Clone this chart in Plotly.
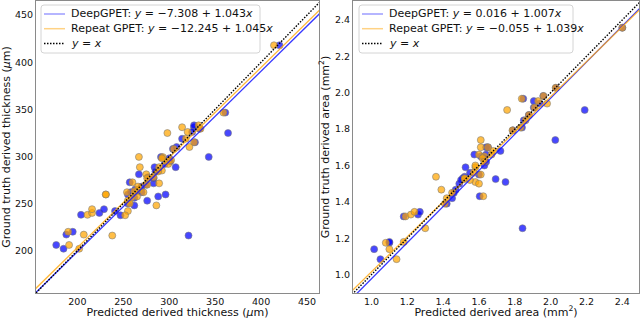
import plotly.graph_objects as go
from plotly.subplots import make_subplots

# ---------------- data: left panel (thickness, um) ----------------
thk_gt = [206, 202, 217, 220, 238, 240, 244, 259.6, 216, 242, 237.5, 262, 248, 253,
          272.5, 299.5, 288.6, 281, 257.5, 259.6, 271.4, 276.8, 288.6, 299.3, 294.6,
          418, 346.5, 324.8, 331, 333, 326, 329.4, 315, 318.8, 310, 308, 298,
          265, 268, 263, 285, 292, 296, 270, 278, 262, 256, 250, 284]
thk_deep = [177, 185, 188, 195, 204, 224, 229, 255, 321, 241, 247, 258, 262, 276,
            257, 343, 307, 267, 288, 296, 283, 283, 284, 291, 301,
            420, 361, 364, 327, 327, 325, 333, 328, 314, 308, 304, 300,
            263, 270, 265, 288, 295, 300, 275, 277, 270, 262, 255, 285]
thk_rep = [191, 202, 207, 190, 211, 216, 216, 231, 238, 255, 252, 254, 286, 255,
           260, 267, 268, 275, 265, 231, 289, 276, 289, 293, 297,
           414, 359, 298, 314, 332, 320, 334, 327, 318, 322, 305, 292,
           267, 266, 262, 292, 299, 302, 276, 283, 272, 259, 257, 288]

# ---------------- data: right panel (area, mm^2) ----------------
area_gt = [1.14, 1.085, 1.175, 1.18, 1.32, 1.33, 1.345, 1.255, 1.538, 1.467, 1.39, 1.42,
           1.431, 1.525, 1.509, 1.50, 1.53, 1.52, 1.59, 1.66, 1.65, 1.64, 1.62, 1.66,
           1.70, 1.68, 1.74, 1.70, 1.905, 1.967, 1.982, 2.027, 1.954, 1.918, 1.877,
           1.808, 1.793, 1.848, 2.357, 1.94, 1.56, 1.45, 1.55, 1.60]
area_deep = [1.015, 1.05, 1.10, 1.10, 1.18, 1.26, 1.27, 1.843, 1.52, 1.47, 1.42, 1.45,
             1.604, 1.693, 1.748, 1.49, 1.51, 1.50, 1.525, 1.574, 1.61, 1.63, 1.64, 1.64,
             1.64, 1.72, 2.026, 1.65, 2.19, 1.847, 1.959, 2.03, 1.906, 1.906, 1.878,
             1.84, 1.79, 1.85, 2.40, 1.94, 1.55, 1.46, 1.60, 1.63]
area_rep = [1.10, 1.14, 1.08, 1.18, 1.19, 1.22, 1.24, 1.30, 1.36, 1.39, 1.41, 1.42,
            1.624, 1.52, 1.58, 1.60, 1.52, 1.55, 1.58, 1.60, 1.63, 1.62, 1.63, 1.67,
            1.61, 1.68, 1.61, 1.65, 1.757, 1.839, 1.96, 2.028, 1.93, 1.91, 1.879,
            1.832, 1.787, 1.86, 2.40, 1.98, 1.57, 1.45, 1.61, 1.58]

# fitted coefficients (pred = a + b * truth), as in the legend
thk_fit = {"DeepGPET": (-7.308, 1.043), "Repeat GPET": (-12.245, 1.045)}
area_fit = {"DeepGPET": (0.016, 1.007), "Repeat GPET": (-0.055, 1.039)}

thk_xrange = [155, 463]
thk_yrange = [155, 465]
area_xrange = [0.897, 2.493]
area_yrange = [0.899, 2.504]
thk_ticks = [200, 250, 300, 350, 400, 450]
area_ticks = [1.0, 1.2, 1.4, 1.6, 1.8, 2.0, 2.2, 2.4]

FONT = "DejaVu Sans"
BLUE_PT = "rgba(0,0,255,0.72)"
ORANGE_PT = "rgba(255,165,0,0.72)"
EDGE = "rgba(120,120,120,0.55)"
BLUE_LN = "rgba(20,20,255,0.85)"
ORANGE_LN = "rgba(255,170,20,0.85)"
BLUE_LEG = "rgba(90,90,255,0.6)"
ORANGE_LEG = "rgba(255,180,50,0.6)"
DOT = "1.5px,1.5px"

W, H = 640, 319
ML, MR, MT, MB = 36, 1, 1, 26
PW, PH = W - ML - MR, H - MT - MB

fig = make_subplots(rows=1, cols=2)


def px2paper(x, y):
    return (x - ML) / PW, 1 - (y - MT) / PH


def fmt(a, b):
    sign = "\u2212" if a < 0 else ""
    return f"<i>y</i> = {sign}{abs(a):.3f} + {b:.3f}<i>x</i>"


def add_panel(col, gt, deep, rep, fit, xr, yr):
    fig.add_trace(go.Scatter(x=deep, y=gt, mode="markers", showlegend=False,
                             marker=dict(size=7, color=BLUE_PT, line=dict(color=EDGE, width=1))),
                  row=1, col=col)
    fig.add_trace(go.Scatter(x=rep, y=gt, mode="markers", showlegend=False,
                             marker=dict(size=7, color=ORANGE_PT, line=dict(color=EDGE, width=1))),
                  row=1, col=col)
    ys = [yr[0] - (yr[1] - yr[0]), yr[1] + (yr[1] - yr[0])]
    for name, color in [("DeepGPET", BLUE_LN), ("Repeat GPET", ORANGE_LN)]:
        a, b = fit[name]
        xs = [a + b * v for v in ys]
        fig.add_trace(go.Scatter(x=xs, y=ys, mode="lines", showlegend=False,
                                 line=dict(color=color, width=1.3)),
                      row=1, col=col)
    fig.add_trace(go.Scatter(x=ys, y=ys, mode="lines", showlegend=False,
                             line=dict(color="black", width=1.4, dash=DOT)),
                  row=1, col=col)


def add_legend(box, fit):
    x0, y0, x1, y1 = box
    r = 3
    p0 = px2paper(x0, y0)
    p1 = px2paper(x1, y1)
    rx, ry = r / PW, r / PH
    path = (f"M {p0[0]+rx},{p0[1]} L {p1[0]-rx},{p0[1]} Q {p1[0]},{p0[1]} {p1[0]},{p0[1]-ry} "
            f"L {p1[0]},{p1[1]+ry} Q {p1[0]},{p1[1]} {p1[0]-rx},{p1[1]} "
            f"L {p0[0]+rx},{p1[1]} Q {p0[0]},{p1[1]} {p0[0]},{p1[1]+ry} "
            f"L {p0[0]},{p0[1]-ry} Q {p0[0]},{p0[1]} {p0[0]+rx},{p0[1]} Z")
    fig.add_shape(type="path", path=path, xref="paper", yref="paper",
                  fillcolor="rgba(255,255,255,0.85)", line=dict(color="#d4d4d4", width=1))
    entries = [(f"DeepGPET: {fmt(*fit['DeepGPET'])}", BLUE_LEG, "solid"),
               (f"Repeat GPET: {fmt(*fit['Repeat GPET'])}", ORANGE_LEG, "solid"),
               ("<i>y</i> = <i>x</i>", "black", DOT)]
    for i, (txt, color, dash) in enumerate(entries):
        yc = y0 + 9 + 14.7 * i
        a = px2paper(x0 + 3, yc)
        b = px2paper(x0 + 24, yc)
        fig.add_shape(type="line", xref="paper", yref="paper", x0=a[0], y0=a[1], x1=b[0], y1=b[1],
                      line=dict(color=color, width=1.5, dash=dash))
        t = px2paper(x0 + 30, yc)
        fig.add_annotation(x=t[0], y=t[1], xref="paper", yref="paper", text=txt,
                           showarrow=False, xanchor="left", yanchor="middle", borderpad=0,
                           xshift=-1,
                           font=dict(family=FONT, size=11, color="#111"))


add_panel(1, thk_gt, thk_deep, thk_rep, thk_fit, thk_xrange, thk_yrange)
add_panel(2, area_gt, area_deep, area_rep, area_fit, area_xrange, area_yrange)
add_legend((41, 5, 260, 53), thk_fit)
add_legend((359, 5, 573, 53), area_fit)

axis_common = dict(showgrid=False, zeroline=False, showline=True, mirror=True,
                   linecolor="#8a8a8a", linewidth=1, ticks="", ticklen=0, automargin=False,
                   tickfont=dict(family=FONT, size=9.5, color="#111"),
                   title_font=dict(family=FONT, size=11, color="#111"))

fig.update_xaxes(**axis_common)
fig.update_yaxes(**axis_common)

fig.update_xaxes(range=thk_xrange, tickvals=thk_ticks,
                 title_text="Predicted derived thickness (<i>\u03bc</i>m)", title_standoff=1,
                 row=1, col=1)
fig.update_yaxes(range=thk_yrange, tickvals=thk_ticks,
                 title_text="Ground truth derived thickness (<i>\u03bc</i>m)", title_standoff=3,
                 row=1, col=1)
fig.update_xaxes(range=area_xrange, tickvals=area_ticks, tickformat=".1f",
                 title_text="Predicted derived area (mm<sup>2</sup>)", title_standoff=1,
                 row=1, col=2)
fig.update_yaxes(range=area_yrange, tickvals=area_ticks, tickformat=".1f",
                 title_text="Ground truth derived area (mm<sup>2</sup>)", title_standoff=3,
                 row=1, col=2)

fig.update_layout(
    width=W, height=H,
    margin=dict(l=ML, r=MR, t=MT, b=MB),
    plot_bgcolor="white", paper_bgcolor="white",
    font=dict(family=FONT),
    showlegend=False,
    xaxis=dict(domain=[0, (319 - ML) / PW]),
    xaxis2=dict(domain=[(353 - ML) / PW, 1]),
)

fig.write_html("out.html", config={"displayModeBar": False},
               post_script="document.body.style.margin='0';document.body.style.overflow='hidden';")
